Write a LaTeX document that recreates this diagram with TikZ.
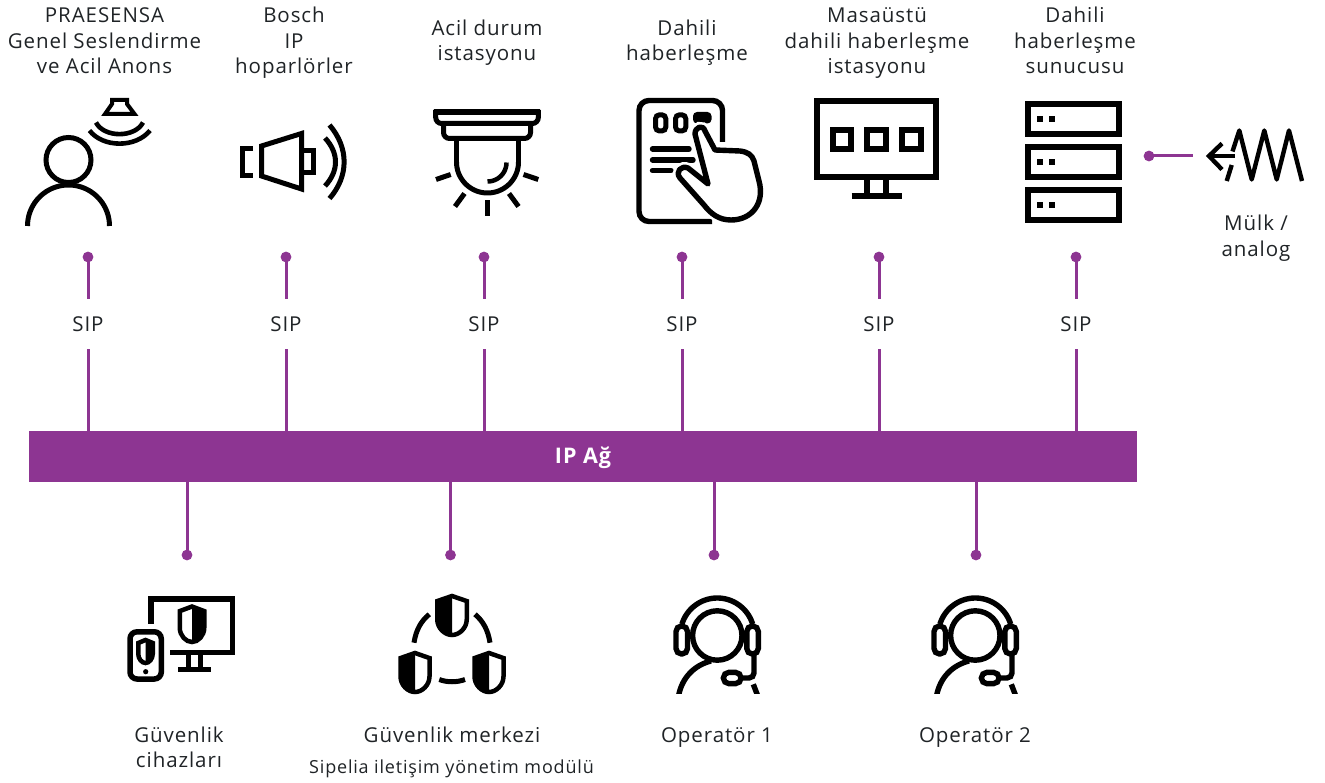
\documentclass[tikz,border=0pt]{standalone}
\usepackage{fontspec}
\setmainfont{Open Sans}[LetterSpace=4.5]
\definecolor{ink}{HTML}{000000}
\definecolor{net}{HTML}{8D3592}
\definecolor{txt}{HTML}{1F2326}
\newcommand\parc[6][]{\draw[#1] plot[domain=#5:#6,samples=48] ({#2+#4*cos(\x)},{#3+#4*sin(\x)});}
\newcommand\shieldicon[5]{%
  \begin{scope}[shift={(#1,#2)},xscale={#3*#5},yscale=#4]
    \fill[ink] (0,0)--(.5,.13)--(.5,.6) .. controls (.5,.82) and (.25,1) .. (0,1)--cycle;
    \draw[ink,line width=4.5pt,miter limit=3] (0,0)--(.5,.13)--(.5,.6) .. controls (.5,.82) and (.25,1) .. (0,1) .. controls (-.25,1) and (-.5,.82) .. (-.5,.6)--(-.5,.13)--cycle;
  \end{scope}}
\newcommand\opicon[1]{%
  \begin{scope}[shift={(#1,0)},icon,line width=5.4pt]
    \begin{scope}
      \clip (660,590) rectangle (775,693.7);
      \draw (717.3,635.5) circle[radius=24.7];
      \draw (678.5,696) .. controls (682,677) and (695,665) .. (711,661);
      \draw (753.3,684.3)--(757.8,696);
    \end{scope}
    \parc{717.3}{635}{37}{197}{343}
    \draw[rounded corners=5.5] (676,626) rectangle (687.5,654);
    \draw[rounded corners=5.5] (746.8,626) rectangle (758.3,654);
    \draw[rounded corners=5] (754,654)--(754,678)--(741,678);
    \draw[rounded corners=5.4] (723.4,672.4) rectangle (741,683.6);
  \end{scope}}
\tikzset{
  icon/.style={draw=ink,line width=5pt,fill=none},
  lbl/.style={text=txt,align=center,font=\fontsize{20.5}{25.5}\selectfont,inner sep=0pt},
  siplbl/.style={lbl,minimum height=50pt,minimum width=40pt},
  wire/.style={draw=net,line width=3pt},
  pdot/.style={fill=net,draw=none,circle,minimum size=10.8pt,inner sep=0pt},
  bus/.style={fill=net,draw=none,inner sep=0pt,minimum width=1108pt,minimum height=51pt,text=white,text height=14.5pt,text depth=0pt,font=\fontsize{21.5}{24}\selectfont\bfseries}
}
\begin{document}
\begin{tikzpicture}[x=1pt,y=-1pt]
\useasboundingbox (0,0) rectangle (1325,783);
% labels
\node[lbl] (t1) at (104.5,43) {\strut PRAESENSA\\Genel Seslendirme\\ve Acil Anons\strut};
\node[lbl] (t2) at (294,43) {\strut Bosch\\IP\\hoparlörler\strut};
\node[lbl] (t3) at (487,42.8) {\strut Acil durum\\istasyonu\strut};
\node[lbl] (t4) at (687,42.8) {\strut Dahili\\haberleşme\strut};
\node[lbl] (t5) at (877,43) {\strut Masaüstü\\dahili haberleşme\\istasyonu\strut};
\node[lbl] (t6) at (1075,43) {\strut Dahili\\haberleşme\\sunucusu\strut};
\node[lbl] (t7) at (1256,238.6) {\strut Mülk /\\analog\strut};
\node[lbl] (b1) at (179,749.8) {\strut Güvenlik\\cihazları\strut};
\node[lbl] (b2) at (452,737) {\strut Güvenlik merkezi\strut};
\node[lbl,font=\fontsize{18}{22}\selectfont] (b2s) at (451.5,768.9) {\strut Sipelia iletişim yönetim modülü\strut};
\node[lbl] (b3) at (717,737) {\strut Operatör 1\strut};
\node[lbl] (b4) at (975,737) {\strut Operatör 2\strut};
% bus
\node[bus] (bus) at (583,456.5) {IP Ağ};
% top connectors
\foreach \n/\px in {1/88,2/286,3/484,4/682,5/879,6/1076}{
  \node[pdot] (d\n) at (\px,257) {};
  \node[siplbl] (s\n) at (\px,324) {SIP};
  \draw[wire] (d\n.center)--(s\n.north);
  \draw[wire] (s\n.south)--(s\n.south |- bus.north);
}
% bottom connectors
\foreach \n/\px in {1/187,2/450.5,3/714,4/976}{
  \node[pdot] (e\n) at (\px,555) {};
  \draw[wire] (e\n.center |- bus.south)--(e\n.center);
}
\node[pdot] (dr) at (1149,156) {};
\coordinate (dre) at (1193,156);
\draw[wire] (dr.center)--(dre);
% person
\begin{scope}[icon]
  \draw (68.5,160) circle[radius=22.5];
  \parc{68.5}{226}{41}{180}{360}
  \draw[line width=4pt] (112,100)--(127,100)--(127,104)--(134.5,114)--(105,114)--(112,104)--cycle;
  \draw[line width=4.6pt] (96,122.5) .. controls (104,138) and (135,138) .. (143,122.5);
  \draw[line width=4.6pt] (89.5,130.5) .. controls (103,148) and (136,148) .. (150,130.5);
\end{scope}
% loudspeaker
\begin{scope}[icon]
  \draw (253,148.5)--(242.5,148.5)--(242.5,176)--(253,176);
  \draw[miter limit=4] (261.5,146)--(301.5,133.5)--(301.5,189)--(261.5,176)--cycle;
  \draw (302,150.5)--(313,150.5)--(313,173)--(302,173);
  \draw[line width=5pt] (325,138) .. controls (339,153) and (339,171) .. (325,186);
  \draw[line width=5pt] (329.5,125) .. controls (349,148) and (349,176) .. (329.5,198.5);
\end{scope}
% beacon
\begin{scope}[icon]
  \draw[line width=5.5pt] (433.5,111.9)--(540,111.9);
  \draw[rounded corners=6] (435.7,110)--(435.7,123.5)--(538.3,123.5)--(538.3,110);
  \draw[rounded corners=6] (443.5,124)--(443.5,138.5)--(530.5,138.5)--(530.5,124);
  \draw (456.5,139)--(456.5,162);
  \draw (518.5,139)--(518.5,162);
  \parc{487.5}{162}{31}{0}{180}
  \parc[line width=4.5pt]{487.5}{162.5}{19}{0}{90}
  \draw (487,200.5)--(487,216);
  \draw (464.5,193.5)--(455,206.5);
  \draw (509,193.5)--(518.5,206.5);
  \draw (450.7,174.5)--(436,179.5);
  \draw (523.5,174.5)--(538.3,179.5);
\end{scope}
% tablet
\begin{scope}[icon,line width=5.4pt]
  \draw[rounded corners=10] (722.5,142)--(722.5,100.5)--(639,100.5)--(639,221.5)--(712,221.5);
  \draw[line width=5pt,rounded corners=4] (655.5,114.8) rectangle (665.8,131);
  \draw[line width=5pt,rounded corners=4] (675.5,114.8) rectangle (685.8,131);
  \fill[ink,rounded corners=4] (693,112) rectangle (711.5,123.5);
  \draw[line cap=round] (652.5,149)--(689,149);
  \draw[line cap=round] (652.5,160)--(693,160);
  \draw[line cap=round] (652.5,170.5)--(671,170.5);
  \path[fill=white,draw=white,line width=10.5pt] (695,134) .. controls (695,127) and (703,124) .. (705,131)--(715,150)--(740,151) .. controls (748,152) and (752,155) .. (754,161)--(759,181) .. controls (765,203) and (752,220) .. (731,220) .. controls (719,220) and (711,214) .. (704,205)--(680,178) .. controls (675,172) and (681,165) .. (688,168)--(708,184)--cycle;
  \draw[line join=round] (695,134) .. controls (695,127) and (703,124) .. (705,131)--(715,150)--(740,151) .. controls (748,152) and (752,155) .. (754,161)--(759,181) .. controls (765,203) and (752,220) .. (731,220) .. controls (719,220) and (711,214) .. (704,205)--(680,178) .. controls (675,172) and (681,165) .. (688,168)--(708,184)--cycle;
\end{scope}
% monitor
\begin{scope}[icon,line width=6pt]
  \draw (817,101.3) rectangle (936.3,177);
  \draw (833,129.7) rectangle (851.3,148.7);
  \draw (867.3,129.7) rectangle (886.3,148.7);
  \draw (902,129.7) rectangle (921,148.7);
  \draw (867.2,179)--(867.2,195);
  \draw (886.2,179)--(886.2,195);
  \draw (851.7,196.3)--(901.7,196.3);
\end{scope}
% server
\begin{scope}[icon,line width=6pt]
  \draw (1028,104) rectangle (1118.7,134.3);
  \draw (1028,147) rectangle (1118.7,177);
  \draw (1028,189.7) rectangle (1118.7,220.3);
  \foreach \yy in {116,159,201.7}{
    \fill[ink] (1036.7,\yy) rectangle ++(6,6);
    \fill[ink] (1049.3,\yy) rectangle ++(6,6);
  }
\end{scope}
% analog
\begin{scope}[icon,line width=4.4pt]
  \draw (1235,156)--(1210,156);
  \draw (1222,143.5)--(1209,156)--(1222,169.5);
  \draw (1226.7,181)--(1231.7,165);
  \draw[line join=round] (1232.5,151.5)--(1239.3,130.5)--(1251.7,179.5)--(1264.3,130.5)--(1276.7,179.5)--(1289,130.5)--(1302,181);
\end{scope}
% devices
\begin{scope}[icon]
  \draw[line width=5.5pt] (151,623.5)--(151,599)--(232.3,599)--(232.3,652.5)--(170,652.5);
  \draw[line width=4.5pt] (188.5,654)--(188.5,669);
  \draw[line width=4.5pt] (200.5,654)--(200.5,669);
  \draw[line width=4.8pt] (178.3,669.3)--(210.7,669.3);
  \draw[line width=5.5pt,rounded corners=7] (130,631.8) rectangle (161.3,679);
  \fill[ink] (145.7,671.7) circle[radius=2.6];
\end{scope}
\shieldicon{192}{606.5}{24.5}{35.5}{1}
\shieldicon{145.5}{640}{14.5}{23}{1}
% security centre
\shieldicon{452}{596}{29.5}{39}{-1}
\shieldicon{415}{653}{29}{39}{-1}
\shieldicon{489}{653}{29}{39}{-1}
\begin{scope}[icon,line width=5pt]
  \draw (414,642.7) .. controls (416,630) and (421,621) .. (429.3,614.3);
  \draw (475,614.3) .. controls (483,621) and (488,630) .. (490,642.7);
  \draw (439.3,679.5) .. controls (447,682.5) and (457,682.5) .. (465,679.5);
\end{scope}
\opicon{0}
\opicon{258}
\end{tikzpicture}
\end{document}
